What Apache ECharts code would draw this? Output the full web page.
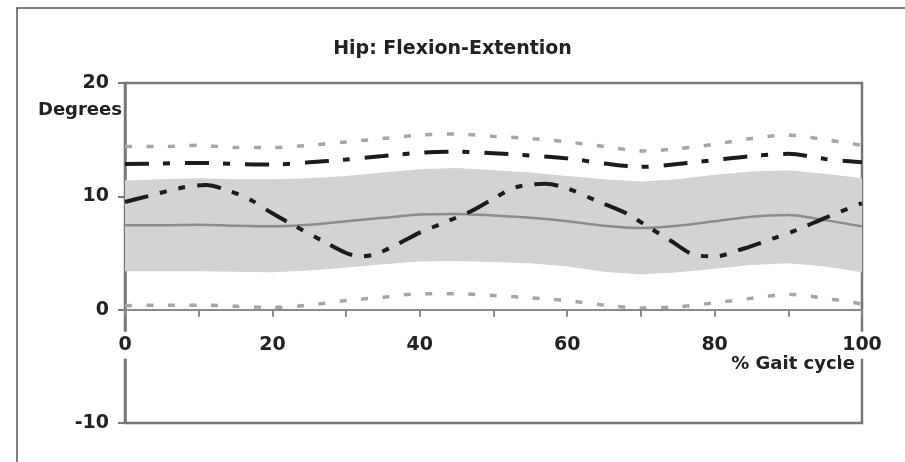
<!DOCTYPE html>
<html>
<head>
<meta charset="utf-8">
<script src="https://cdn.jsdelivr.net/npm/echarts@6/dist/echarts.min.js"></script>
<style>
html,body{margin:0;padding:0;background:#fff;}
#chart{width:905px;height:462px;}
</style>
</head>
<body>
<div id="chart"></div>
<script>
// % gait cycle sample positions
const xs = [0,5,10,15,20,25,30,35,40,45,50,55,60,65,70,75,80,85,90,95,100];
// normal range limits (gray dotted)
const upperDotted = [14.4,14.4,14.5,14.3,14.3,14.5,14.8,15.1,15.4,15.5,15.3,15.1,14.8,14.4,14.0,14.2,14.6,15.1,15.4,15.0,14.5];
const lowerDotted = [0.35,0.4,0.4,0.3,0.2,0.4,0.8,1.1,1.4,1.4,1.25,1.05,0.8,0.4,0.15,0.25,0.6,1.0,1.35,1.0,0.5];
// shaded band (mean +/- SD)
const bandUpper = [11.4,11.5,11.6,11.5,11.5,11.6,11.8,12.1,12.4,12.5,12.3,12.1,11.8,11.5,11.3,11.5,11.9,12.2,12.3,12.0,11.6];
const bandLower = [3.4,3.4,3.4,3.35,3.3,3.45,3.7,4.0,4.25,4.3,4.2,4.1,3.8,3.35,3.1,3.3,3.6,3.95,4.1,3.8,3.3];
// mean (gray solid)
const meanLine = [7.45,7.45,7.5,7.4,7.35,7.5,7.8,8.1,8.4,8.45,8.3,8.1,7.8,7.4,7.2,7.4,7.8,8.2,8.35,7.9,7.35];
// black dash-dot upper curve
const upperDashDot = [12.85,12.9,12.95,12.85,12.8,13.0,13.25,13.55,13.85,13.95,13.8,13.6,13.35,12.9,12.6,12.85,13.2,13.55,13.75,13.3,13.0];
// black dash-dot-dot oscillating curve
const waveX = [0,3,8,11,14,17,20,23,27,30,32,34,37,40,43,47,50,53,57,60,64,68,71,74,77,80,84,88,91,95,100];
const waveY = [9.5,10.0,10.8,11.0,10.5,9.7,8.5,7.4,6.0,5.0,4.7,4.9,5.8,6.8,7.6,8.7,9.8,10.8,11.1,10.7,9.6,8.5,7.3,6.1,4.9,4.7,5.4,6.3,7.0,8.1,9.4];

const titleText = 'Hip: Flexion-Extention';
const yName = 'Degrees';
const xName = '% Gait cycle';

const zip = (a, b) => a.map((v, i) => [v, b[i]]);

const FONT = '"DejaVu Sans", sans-serif';
const Y_MIN = -10, Y_MAX = 20;
const GRID = {left: 125, right: 43, top: 83, bottom: 39};
const plotH = 462 - GRID.top - GRID.bottom;
const zeroOffset = -plotH * (0 - Y_MIN) / (Y_MAX - Y_MIN);

const chart = echarts.init(document.getElementById('chart'), null, {renderer: 'canvas'});
chart.setOption({
  backgroundColor: '#fff',
  animation: false,
  title: {
    text: titleText, left: 'center', top: 35,
    textStyle: {fontFamily: FONT, fontWeight: 'bold', fontSize: 19, color: '#222'}
  },
  grid: {
    left: GRID.left, right: GRID.right, top: GRID.top, bottom: GRID.bottom,
    outerBoundsMode: 'none', containLabel: false,
    show: true, borderColor: '#777', borderWidth: 2.5, backgroundColor: 'transparent'
  },
  xAxis: {
    type: 'value', min: 0, max: 100, interval: 20,
    offset: zeroOffset,
    axisLine: {onZero: false, lineStyle: {color: '#8a8a8a', width: 2}},
    axisTick: {show: true, length: 7, lineStyle: {color: '#8a8a8a', width: 2}},
    minorTick: {show: true, splitNumber: 2, length: 7, lineStyle: {color: '#8a8a8a', width: 2}},
    splitLine: {show: false},
    axisLabel: {
      margin: 22, fontFamily: FONT, fontWeight: 'bold', fontSize: 19, color: '#222',
      backgroundColor: '#fff', padding: [4, 2, 4, 2]
    },
    z: 5
  },
  yAxis: {
    type: 'value', min: Y_MIN, max: Y_MAX, interval: 10,
    axisLine: {show: true, onZero: false, lineStyle: {color: '#777', width: 2.5}},
    axisTick: {show: true, length: 7, lineStyle: {color: '#777', width: 2}},
    splitLine: {show: false},
    axisLabel: {margin: 16, fontFamily: FONT, fontWeight: 'bold', fontSize: 19, color: '#222'}
  },
  graphic: [
    {type: 'rect', shape: {x: 17, y: 8, width: 1000, height: 1000}, style: {fill: 'none', stroke: '#555', lineWidth: 1.5}, silent: true, z: -1},
    {type: 'text', x: 122, y: 110, style: {text: yName, textAlign: 'right', textVerticalAlign: 'middle', font: 'bold 18px "DejaVu Sans", sans-serif', fill: '#222'}},
    {type: 'text', x: 855, y: 364, style: {text: xName, textAlign: 'right', textVerticalAlign: 'middle', font: 'bold 18px "DejaVu Sans", sans-serif', fill: '#222'}}
  ],
  series: [
    {
      type: 'custom', name: 'band', clip: true, z: 1,
      data: xs.map((x, i) => [x, bandLower[i], bandUpper[i]]),
      renderItem: function (params, api) {
        if (params.dataIndex !== 0) return null;
        const pts = [];
        for (let i = 0; i < xs.length; i++) pts.push(api.coord([xs[i], bandUpper[i]]));
        for (let i = xs.length - 1; i >= 0; i--) pts.push(api.coord([xs[i], bandLower[i]]));
        return {type: 'polygon', shape: {points: pts}, style: {fill: '#d3d3d3', stroke: 'none'}};
      }
    },
    {type: 'line', name: 'mean', data: zip(xs, meanLine), smooth: 0.3, symbol: 'none',
     lineStyle: {color: '#8c8c8c', width: 2.5}, z: 2},
    {type: 'line', name: 'upperDotted', data: zip(xs, upperDotted), smooth: 0.3, symbol: 'none',
     lineStyle: {color: '#a6a6a6', width: 3.5, type: [7, 14.5]}, z: 3},
    {type: 'line', name: 'lowerDotted', data: zip(xs, lowerDotted), smooth: 0.3, symbol: 'none',
     lineStyle: {color: '#a6a6a6', width: 3.5, type: [7, 14.5]}, z: 3},
    {type: 'line', name: 'upperDashDot', data: zip(xs, upperDashDot), smooth: 0.3, symbol: 'none',
     lineStyle: {color: '#1c1c1c', width: 4, type: [24, 14, 7, 15]}, z: 4},
    {type: 'line', name: 'wave', data: zip(waveX, waveY), smooth: 0.3, symbol: 'none',
     lineStyle: {color: '#1c1c1c', width: 4, type: [24, 12, 7, 12, 7, 12]}, z: 4}
  ]
});
</script>
</body>
</html>
